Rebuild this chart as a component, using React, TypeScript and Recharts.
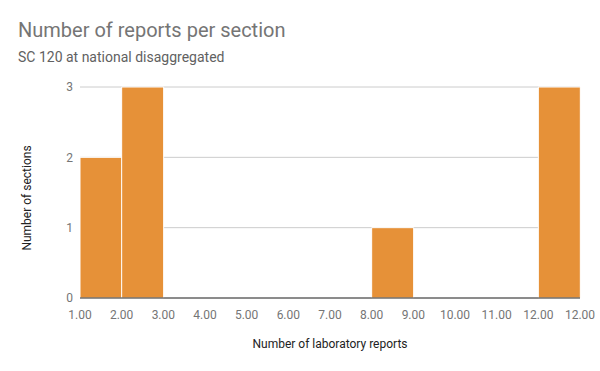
import React from "react";
import { BarChart, Bar, XAxis, YAxis, CartesianGrid } from "recharts";

const bins = ["1-2", "2-3", "3-4", "4-5", "5-6", "6-7", "7-8", "8-9", "9-10", "10-11", "11-12", "12-12"];
const counts = [2, 3, 0, 0, 0, 0, 0, 1, 0, 0, 0, 3];
const boundaryLabels = ["1.00", "2.00", "3.00", "4.00", "5.00", "6.00", "7.00", "8.00", "9.00", "10.00", "11.00", "12.00", "12.00"];
const yTicks = [0, 1, 2, 3];

const data = bins.map((b, i) => ({ bin: b, idx: i + 0.5, count: counts[i] }));
const boundaryTicks = boundaryLabels.map((_, i) => i);

const font = "Roboto, 'Noto Sans', sans-serif";

export default function App() {
  return (
    <div style={{ position: "absolute", left: 0, top: 0, width: 600, height: 371, background: "#fff", fontFamily: font }}>
      <div style={{ position: "absolute", left: 18, top: 18, fontSize: 20, color: "#757575", whiteSpace: "nowrap" }}>
        Number of reports per section
      </div>
      <div style={{ position: "absolute", left: 18, top: 49, fontSize: 14, color: "#616161", whiteSpace: "nowrap" }}>
        SC 120 at national disaggregated
      </div>
      <BarChart
        width={600}
        height={371}
        data={data}
        margin={{ top: 87, right: 20, bottom: 0, left: 0 }}
        barCategoryGap={0}
        barGap={0}
      >
        <CartesianGrid xAxisId="cat" vertical={false} stroke="#cccccc" />
        <XAxis xAxisId="cat" dataKey="bin" type="category" hide height={0} />
        <XAxis
          xAxisId="num"
          dataKey="idx"
          type="number"
          domain={[0, 12]}
          allowDataOverflow
          ticks={boundaryTicks}
          interval={0}
          tickFormatter={(v: number) => boundaryLabels[v]}
          height={73}
          tickLine={false}
          tickMargin={6}
          axisLine={{ stroke: "#333333" }}
          tick={{ fill: "#757575", fontSize: 12, fontFamily: font }}
        />
        <YAxis
          domain={[0, 3]}
          ticks={yTicks}
          width={80}
          axisLine={false}
          tickLine={false}
          tickMargin={1}
          tick={{ fill: "#757575", fontSize: 12, fontFamily: font }}
        />
        <Bar
          xAxisId="cat"
          dataKey="count"
          fill="#E69138"
          stroke="#ffffff"
          strokeWidth={1}
          isAnimationActive={false}
        />
      </BarChart>
      <div style={{ position: "absolute", left: 0, width: 660, top: 337, textAlign: "center", fontSize: 12, color: "#222222" }}>
        Number of laboratory reports
      </div>
      <div
        style={{
          position: "absolute",
          left: 27,
          top: 198,
          transform: "translate(-50%, -50%) rotate(-90deg)",
          fontSize: 12,
          color: "#222222",
          whiteSpace: "nowrap",
        }}
      >
        Number of sections
      </div>
    </div>
  );
}
